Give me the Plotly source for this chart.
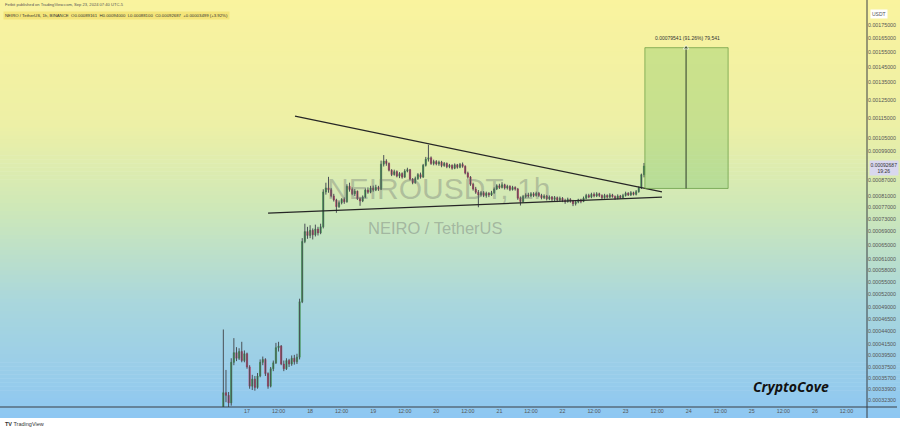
import plotly.graph_objects as go
import pandas as pd
import numpy as np

# ---------------- data (prices in units of 1e-5 USDT) ----------------
PRICE_UNIT = 1e-5
start_time = "2024-09-16 15:00"

opens = [31.3, 33.4, 33.0, 31.9, 38.3, 40.0, 39.0, 40.2, 38.6, 39.8,
         37.5, 34.4, 35.5, 34.2, 36.0, 38.3, 38.8, 36.4, 34.4, 37.2,
         38.2, 40.9, 41.2, 38.0, 37.2, 38.6, 38.0, 39.0, 38.4, 39.2,
         50.3, 66.0, 69.0, 67.8, 69.4, 68.0, 69.8, 68.6, 70.5, 82.5,
         84.0, 83.3, 81.0, 79.6, 77.2, 78.6, 79.8, 78.9, 84.6, 83.4,
         81.8, 82.8, 80.0, 79.2, 80.6, 83.2, 82.4, 84.0, 83.2, 84.2,
         83.5, 93.5, 94.8, 93.8, 91.0, 89.2, 90.4, 88.6, 89.6, 88.2,
         90.6, 91.2, 87.4, 86.0, 87.6, 89.2, 88.2, 93.0, 95.6, 96.2,
         93.8, 94.6, 93.6, 94.4, 92.9, 93.8, 92.4, 93.0, 91.8, 93.2,
         92.2, 93.4, 92.6, 89.8, 88.2, 85.4, 83.6, 82.4, 81.4, 82.2,
         81.2, 82.0, 81.4, 82.2, 83.6, 84.8, 84.2, 85.2, 84.0, 84.6,
         83.4, 84.2, 83.6, 80.2, 79.0, 80.8, 81.4, 81.0, 81.8, 81.2,
         82.0, 81.2, 80.4, 81.0, 80.0, 80.6, 79.8, 80.4, 79.6, 80.2,
         79.4, 79.0, 79.8, 79.2, 78.2, 78.8, 79.6, 79.0, 80.2, 81.2,
         80.6, 81.6, 81.0, 81.8, 81.2, 80.4, 81.2, 80.6, 81.4, 80.8,
         80.2, 81.0, 80.4, 81.2, 82.0, 81.4, 82.2, 81.6, 82.6, 84.0,
         89.161]
highs = [44.4, 37.0, 33.5, 39.0, 42.7, 41.0, 40.8, 42.0, 40.4, 40.0,
         37.8, 36.2, 36.0, 36.5, 38.8, 39.3, 39.0, 36.6, 37.5, 38.6,
         41.8, 42.0, 41.4, 38.6, 39.0, 38.9, 39.5, 39.6, 39.8, 51.0,
         67.0, 71.5, 70.5, 71.0, 70.0, 71.2, 70.5, 71.5, 83.5, 86.0,
         88.3, 84.0, 81.8, 80.0, 79.4, 80.2, 80.5, 85.4, 86.0, 84.2,
         83.6, 83.0, 80.5, 81.2, 83.8, 84.2, 84.8, 84.9, 85.2, 84.8,
         95.0, 97.4, 95.6, 94.2, 91.4, 91.2, 90.9, 90.2, 90.1, 91.4,
         92.0, 91.5, 87.8, 88.4, 89.8, 90.0, 93.6, 96.6, 102.0, 96.8,
         95.4, 95.2, 95.0, 94.9, 94.4, 94.2, 93.6, 93.4, 93.8, 93.6,
         94.0, 94.2, 93.0, 90.4, 88.6, 86.0, 84.4, 83.2, 82.8, 82.8,
         82.6, 82.4, 82.9, 84.2, 85.4, 85.6, 86.2, 85.6, 85.2, 85.0,
         84.8, 84.6, 84.0, 80.8, 81.4, 82.0, 82.2, 82.4, 82.4, 82.6,
         82.5, 81.8, 81.6, 81.4, 81.2, 81.0, 81.0, 80.8, 80.8, 80.6,
         80.0, 80.4, 80.2, 79.6, 79.4, 80.0, 80.0, 80.8, 81.8, 81.8,
         82.2, 82.3, 82.4, 82.2, 81.6, 81.8, 81.6, 82.0, 81.8, 81.2,
         81.6, 81.4, 81.8, 82.6, 82.4, 82.8, 82.6, 83.2, 84.6, 89.6,
         94.0]
lows = [31.0, 32.0, 31.3, 31.5, 37.8, 38.5, 38.7, 38.3, 38.3, 37.2,
        34.0, 33.8, 33.7, 34.0, 35.8, 37.8, 36.0, 34.0, 34.2, 36.8,
        38.0, 40.2, 37.8, 36.8, 37.0, 37.5, 37.7, 37.9, 38.0, 38.8,
        50.0, 65.5, 66.8, 67.0, 66.6, 67.5, 67.8, 68.2, 70.0, 81.5,
        82.2, 80.5, 79.0, 75.1, 76.8, 78.0, 78.2, 78.6, 82.6, 81.3,
        81.0, 79.6, 77.5, 78.8, 80.2, 81.8, 82.0, 82.6, 82.8, 82.9,
        83.2, 92.5, 92.8, 90.5, 88.6, 88.8, 88.1, 87.8, 87.6, 87.9,
        90.1, 86.9, 85.4, 85.6, 87.1, 87.6, 87.9, 92.5, 94.6, 93.2,
        93.0, 93.0, 92.8, 92.2, 92.4, 91.8, 91.8, 91.2, 91.4, 91.6,
        91.8, 92.0, 89.3, 87.6, 84.8, 83.0, 81.8, 77.0, 80.8, 80.6,
        80.4, 80.6, 81.0, 81.8, 83.2, 83.6, 83.8, 83.4, 83.4, 82.8,
        83.0, 83.0, 79.6, 77.6, 78.6, 80.2, 80.4, 80.6, 80.6, 80.8,
        80.6, 79.8, 79.9, 79.4, 79.5, 79.2, 79.0, 78.8, 79.0, 78.8,
        78.2, 78.6, 78.6, 77.4, 77.6, 78.4, 78.4, 78.8, 79.8, 80.2,
        80.2, 80.5, 80.6, 80.6, 79.8, 80.0, 80.1, 80.2, 80.4, 79.6,
        79.8, 80.0, 80.1, 80.8, 81.0, 81.0, 81.2, 81.2, 82.2, 83.6,
        88.1]
closes = [33.4, 33.0, 31.9, 38.3, 40.0, 39.0, 40.2, 38.6, 39.8, 37.5,
          34.4, 35.5, 34.2, 36.0, 38.3, 38.8, 36.4, 34.4, 37.2, 38.2,
          40.9, 41.2, 38.0, 37.2, 38.6, 38.0, 39.0, 38.4, 39.2, 50.3,
          66.0, 69.0, 67.8, 69.4, 68.0, 69.8, 68.6, 70.5, 82.5, 84.0,
          83.3, 81.0, 79.6, 77.2, 78.6, 79.8, 78.9, 84.6, 83.4, 81.8,
          82.8, 80.0, 79.2, 80.6, 83.2, 82.4, 84.0, 83.2, 84.2, 83.5,
          93.5, 94.8, 93.8, 91.0, 89.2, 90.4, 88.6, 89.6, 88.2, 90.6,
          91.2, 87.4, 86.0, 87.6, 89.2, 88.2, 93.0, 95.6, 96.2, 93.8,
          94.6, 93.6, 94.4, 92.9, 93.8, 92.4, 93.0, 91.8, 93.2, 92.2,
          93.4, 92.6, 89.8, 88.2, 85.4, 83.6, 82.4, 81.4, 82.2, 81.2,
          82.0, 81.4, 82.2, 83.6, 84.8, 84.2, 85.2, 84.0, 84.6, 83.4,
          84.2, 83.6, 80.2, 79.0, 80.8, 81.4, 81.0, 81.8, 81.2, 82.0,
          81.2, 80.4, 81.0, 80.0, 80.6, 79.8, 80.4, 79.6, 80.2, 79.4,
          79.0, 79.8, 79.2, 78.2, 78.8, 79.6, 79.0, 80.2, 81.2, 80.6,
          81.6, 81.0, 81.8, 81.2, 80.4, 81.2, 80.6, 81.4, 80.8, 80.2,
          81.0, 80.4, 81.2, 82.0, 81.4, 82.2, 81.6, 82.6, 84.0, 89.161,
          92.687]

# drawing objects
triangle_upper_t = ["2024-09-17 18:15", "2024-09-23 13:50"]
triangle_upper_p = [0.001161, 0.000825]
triangle_lower_t = ["2024-09-17 08:00", "2024-09-23 13:50"]
triangle_lower_p = [0.000750, 0.000806]
box_t = ["2024-09-23 07:20", "2024-09-24 15:00"]
box_p = [0.000838, 0.00158]
arrow_t = "2024-09-23 23:00"
box_label = "0.00079541 (91.26%) 79,541"

y_tick_labels = ["0.00175000", "0.00165000", "0.00155000", "0.00145000",
                 "0.00135000", "0.00125000", "0.00115000", "0.00105000",
                 "0.00099000", "0.00087000", "0.00081000", "0.00077000",
                 "0.00073000", "0.00069000", "0.00065000", "0.00061000",
                 "0.00058000", "0.00055000", "0.00052000", "0.00049000",
                 "0.00046500", "0.00044000", "0.00041500", "0.00039500",
                 "0.00037500", "0.00035700", "0.00033900", "0.00032300"]
x_tick_times = ["2024-09-17", "2024-09-17 12:00", "2024-09-18", "2024-09-18 12:00",
                "2024-09-19", "2024-09-19 12:00", "2024-09-20", "2024-09-20 12:00",
                "2024-09-21", "2024-09-21 12:00", "2024-09-22", "2024-09-22 12:00",
                "2024-09-23", "2024-09-23 12:00", "2024-09-24", "2024-09-24 12:00",
                "2024-09-25", "2024-09-25 12:00", "2024-09-26", "2024-09-26 12:00"]
x_tick_labels = ["17", "12:00", "18", "12:00", "19", "12:00", "20", "12:00",
                 "21", "12:00", "22", "12:00", "23", "12:00", "24", "12:00",
                 "25", "12:00", "26", "12:00"]

last_price_label = "0.00092687"
countdown_label = "19:26"
header_published = "Fetbit published on TradingView.com, Sep 23, 2024 07:40 UTC-5"
header_ohlc = ("NEIRO / TetherUS, 1h, BINANCE\u00a0\u00a0O0.00089161\u00a0\u00a0H0.00094000"
               "\u00a0\u00a0L0.00088100\u00a0\u00a0C0.00092687\u00a0\u00a0+0.00003499 (+3.92%)")

# ---------------- layout geometry ----------------
W, H = 900, 430
ML, MR, MT, MB = 0, 33, 9, 23
PW = W - ML - MR
PH = H - MT - MB


def px(x):
    return (x - ML) / PW


def py(y):
    return (H - MB - y) / PH


times = pd.date_range(start_time, periods=len(closes), freq="h")
o = np.array(opens) * PRICE_UNIT
hi = np.array(highs) * PRICE_UNIT
lo = np.array(lows) * PRICE_UNIT
c = np.array(closes) * PRICE_UNIT

fig = go.Figure()

# wicks
wx, wy = [], []
for t, hh, ll in zip(times, hi, lo):
    wx += [t, t, None]
    wy += [ll, hh, None]
fig.add_trace(go.Scatter(x=wx, y=wy, mode="lines",
                         line=dict(color="#4a5056", width=1),
                         hoverinfo="skip", showlegend=False))

# bodies
fig.add_trace(go.Candlestick(
    x=times, open=o, close=c,
    high=np.maximum(o, c), low=np.minimum(o, c),
    increasing=dict(line=dict(color="#3d9a4e", width=0.6), fillcolor="#3d9a4e"),
    decreasing=dict(line=dict(color="#c2305e", width=0.6), fillcolor="#c2305e"),
    showlegend=False))

# triangle lines
fig.add_trace(go.Scatter(x=triangle_upper_t, y=triangle_upper_p, mode="lines",
                         line=dict(color="#262626", width=1.2), showlegend=False, hoverinfo="skip"))
fig.add_trace(go.Scatter(x=triangle_lower_t, y=triangle_lower_p, mode="lines",
                         line=dict(color="#262626", width=1.2), showlegend=False, hoverinfo="skip"))

# target box
fig.add_trace(go.Scatter(x=[box_t[0], box_t[1], box_t[1], box_t[0], box_t[0]],
                         y=[box_p[0], box_p[0], box_p[1], box_p[1], box_p[0]],
                         mode="lines", fill="toself",
                         fillcolor="rgba(110,190,90,0.30)",
                         line=dict(color="rgba(95,150,60,0.85)", width=0.8),
                         showlegend=False, hoverinfo="skip"))
fig.add_trace(go.Scatter(x=[arrow_t, arrow_t], y=[box_p[0], box_p[1]],
                         mode="lines+markers",
                         line=dict(color="#2d3b2a", width=1),
                         marker=dict(symbol=["line-ew", "triangle-up"], size=[0, 5], color="#2d3b2a"),
                         showlegend=False, hoverinfo="skip"))

# background gradient
stops = [(0.0, (250, 243, 158)), (0.30, (237, 240, 166)), (0.50, (206, 232, 184)),
         (0.72, (170, 215, 220)), (1.0, (142, 199, 242))]


def grad(f):
    for (f0, c0), (f1, c1) in zip(stops[:-1], stops[1:]):
        if f <= f1:
            k = (f - f0) / (f1 - f0)
            return tuple(int(round(a + (b - a) * k)) for a, b in zip(c0, c1))
    return stops[-1][1]


shapes = []
GB = 418
n = 105
for i in range(n):
    y0 = GB * i / n
    y1 = GB * (i + 1) / n + 0.6
    col = grad((y0 + y1) / 2 / GB)
    shapes.append(dict(type="rect", xref="paper", yref="paper",
                       x0=px(0), x1=px(W), y0=py(min(y1, GB)), y1=py(y0),
                       fillcolor="rgb(%d,%d,%d)" % col, line=dict(width=0), layer="below"))
# separators
shapes.append(dict(type="line", xref="paper", yref="paper", x0=px(0), x1=px(W - 3),
                   y0=0, y1=0, line=dict(color="#3a3f44", width=1)))
shapes.append(dict(type="line", xref="paper", yref="paper", x0=1, x1=1,
                   y0=py(GB), y1=py(0), line=dict(color="#3a3f44", width=1)))

anns = [
    dict(x=px(3), y=py(4), text=header_published, font=dict(size=4.1, color="#555")),
    dict(x=px(3), y=py(15.5), text=header_ohlc, font=dict(size=4.3, color="#333"),
         bgcolor="#f4e57a", borderpad=1),
    dict(x=px(870), y=py(14), text="USDT", font=dict(size=5, color="#555"),
         bgcolor="#ffffff", borderpad=1),
    dict(x=px(869), y=py(168), text=last_price_label + "<br>" + countdown_label,
         font=dict(size=5, color="#333"), bgcolor="#d9d8ef", borderpad=0.5),
    dict(x=px(438), y=py(188), text="NEIROUSDT, 1h", xanchor="center",
         font=dict(size=30, color="rgba(105,110,110,0.35)", family="Liberation Sans")),
    dict(x=px(435), y=py(228), text="NEIRO / TetherUS", xanchor="center",
         font=dict(size=16.5, color="rgba(105,110,110,0.40)", family="Liberation Sans")),
    dict(x=px(791), y=py(386), text="<b><i>CryptoCove</i></b>", xanchor="center",
         font=dict(size=14, color="#111", family="Open Sans")),
    dict(x=px(687), y=py(38), text=box_label, xanchor="center",
         font=dict(size=5, color="#333")),
    dict(x=px(3), y=py(424), text="<b>TV</b> TradingView", font=dict(size=5.5, color="#333")),
]
for a in anns:
    a.setdefault("xanchor", "left")
    a.update(xref="paper", yref="paper", showarrow=False, yanchor="middle")

fig.update_layout(
    width=W, height=H,
    margin=dict(l=ML, r=MR, t=MT, b=MB, pad=0),
    paper_bgcolor="#ffffff", plot_bgcolor="rgba(0,0,0,0)",
    shapes=shapes, annotations=anns,
    font=dict(family="Liberation Sans", size=5.3, color="#555"),
    xaxis=dict(type="date", range=["2024-09-13 02:03", "2024-09-26 19:49"],
               tickvals=x_tick_times, ticktext=x_tick_labels, tickangle=0,
               showgrid=False, zeroline=False, showline=False, ticks="",
               rangeslider=dict(visible=False), automargin=False,
               tickfont=dict(size=5.3, color="#555")),
    yaxis=dict(type="log", side="right",
               range=[np.log10(0.00031313), np.log10(0.0018807)],
               tickvals=[float(s) for s in y_tick_labels], ticktext=y_tick_labels,
               showgrid=False, zeroline=False, showline=False, ticks="",
               automargin=False, tickfont=dict(size=5.3, color="#555")),
    showlegend=False,
)

fig.write_html("out.html", config={"displayModeBar": False},
               post_script="document.body.style.margin='0px';document.body.style.overflow='hidden';")
